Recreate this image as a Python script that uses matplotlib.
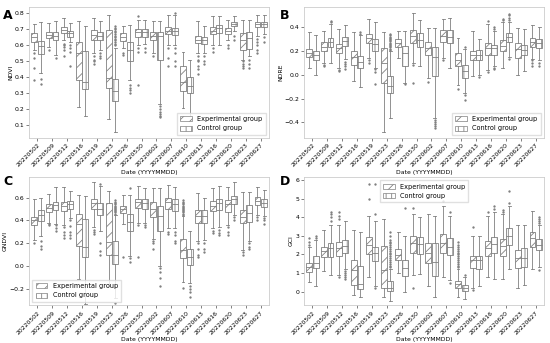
import matplotlib
matplotlib.use("Agg")
import matplotlib.pyplot as plt
from matplotlib.patches import Patch

dates = ["20220502", "20220509", "20220512", "20220516", "20220519", "20220523",
         "20220526", "20220530", "20220602", "20220607", "20220610", "20220613",
         "20220616", "20220620", "20220623", "20220627"]

# each box: (low whisker, q1, median, q3, high whisker)
ndvi_exp = [(0.57, 0.62, 0.65, 0.675, 0.733), (0.59, 0.648, 0.665, 0.681, 0.74),
            (0.63, 0.675, 0.695, 0.712, 0.77), (0.215, 0.383, 0.55, 0.619, 0.754),
            (0.55, 0.633, 0.665, 0.695, 0.77), (0.14, 0.33, 0.395, 0.695, 0.79),
            (0.58, 0.627, 0.65, 0.675, 0.72), (0.6, 0.654, 0.68, 0.702, 0.76),
            (0.55, 0.633, 0.66, 0.685, 0.75), (0.6, 0.669, 0.69, 0.717, 0.79),
            (0.205, 0.315, 0.37, 0.473, 0.56), (0.55, 0.613, 0.635, 0.66, 0.75),
            (0.6, 0.669, 0.69, 0.717, 0.78), (0.63, 0.67, 0.69, 0.71, 0.76),
            (0.51, 0.571, 0.633, 0.675, 0.76), (0.66, 0.712, 0.733, 0.748, 0.79)]
ndvi_exp_fliers = [[0.55, 0.52, 0.46, 0.38], [0.57], [0.61, 0.6, 0.59, 0.57, 0.53], [],
                   [0.53, 0.51, 0.5, 0.48], [], [0.55, 0.54], [0.78, 0.58, 0.56, 0.35],
                   [0.53], [0.58, 0.52, 0.47], [], [0.53, 0.51, 0.5, 0.47, 0.45, 0.42],
                   [0.58, 0.56], [0.6, 0.58], [0.5, 0.48, 0.47, 0.46], [0.64, 0.62, 0.6, 0.57, 0.55]]
ndvi_ctrl = [(0.425, 0.546, 0.592, 0.629, 0.748), (0.54, 0.633, 0.66, 0.685, 0.75),
             (0.62, 0.65, 0.675, 0.69, 0.74), (0.155, 0.325, 0.37, 0.565, 0.72),
             (0.57, 0.63, 0.655, 0.68, 0.75), (0.055, 0.248, 0.315, 0.389, 0.58),
             (0.38, 0.504, 0.57, 0.619, 0.725), (0.61, 0.654, 0.68, 0.702, 0.76),
             (0.23, 0.508, 0.655, 0.68, 0.75), (0.6, 0.665, 0.69, 0.71, 0.79),
             (0.15, 0.3, 0.345, 0.4, 0.51), (0.55, 0.608, 0.633, 0.654, 0.72),
             (0.6, 0.675, 0.705, 0.727, 0.78), (0.69, 0.723, 0.733, 0.744, 0.78),
             (0.53, 0.577, 0.644, 0.685, 0.76), (0.67, 0.712, 0.73, 0.744, 0.79)]
ndvi_ctrl_fliers = [[0.39, 0.36], [0.52], [0.6, 0.58, 0.56, 0.47], [], [0.55, 0.53, 0.52],
                    [0.6, 0.61, 0.62, 0.63, 0.64, 0.65, 0.66, 0.67, 0.68, 0.69, 0.7, 0.71, 0.72],
                    [0.35, 0.33, 0.32, 0.3], [0.58, 0.56], [0.22, 0.2, 0.18, 0.17, 0.16, 0.15],
                    [0.8, 0.58, 0.55, 0.5, 0.47], [], [0.53, 0.5, 0.48], [], [0.66, 0.63],
                    [0.51, 0.48, 0.46], [0.65, 0.62]]

ndre_exp = [(0.06, 0.152, 0.185, 0.213, 0.36), (0.1, 0.2, 0.235, 0.272, 0.37),
            (0.06, 0.18, 0.222, 0.258, 0.38), (-0.05, 0.08, 0.152, 0.2, 0.36),
            (0.14, 0.264, 0.306, 0.343, 0.47), (-0.48, -0.067, 0.095, 0.228, 0.36),
            (0.14, 0.236, 0.27, 0.298, 0.37), (0.1, 0.264, 0.326, 0.376, 0.52),
            (-0.03, 0.166, 0.222, 0.278, 0.39), (0.14, 0.278, 0.326, 0.376, 0.47),
            (-0.09, 0.073, 0.124, 0.18, 0.31), (-0.01, 0.124, 0.166, 0.2, 0.37),
            (0.04, 0.17, 0.228, 0.27, 0.43), (0.06, 0.2, 0.242, 0.292, 0.44),
            (0.0, 0.138, 0.213, 0.264, 0.39), (0.13, 0.236, 0.278, 0.312, 0.42)]
ndre_exp_fliers = [[], [0.08, 0.07], [0.04, 0.03], [], [0.12, 0.1], [], [], [0.08, -0.07],
                   [-0.06], [0.12], [-0.12], [], [0.45, 0.02], [0.46, 0.47], [], [0.12, 0.1, 0.07]]
ndre_ctrl = [(0.0, 0.124, 0.17, 0.2, 0.33), (0.1, 0.236, 0.278, 0.312, 0.43),
             (0.13, 0.24, 0.284, 0.32, 0.42), (-0.1, 0.053, 0.11, 0.157, 0.33),
             (0.06, 0.2, 0.256, 0.3, 0.44), (-0.36, -0.157, -0.093, -0.011, 0.2),
             (-0.07, 0.073, 0.185, 0.242, 0.37), (0.07, 0.23, 0.292, 0.348, 0.46),
             (-0.36, -0.011, 0.152, 0.23, 0.39), (0.06, 0.264, 0.32, 0.376, 0.48),
             (-0.15, -0.025, 0.03, 0.081, 0.22), (0.0, 0.124, 0.17, 0.208, 0.3),
             (0.07, 0.17, 0.228, 0.25, 0.37), (0.15, 0.278, 0.32, 0.354, 0.44),
             (0.03, 0.166, 0.208, 0.25, 0.38), (0.12, 0.228, 0.264, 0.298, 0.4)]
ndre_ctrl_fliers = [[], [0.45, 0.44], [0.11, 0.09, 0.07, 0.05], [0.34, 0.36], [0.05, 0.02, -0.08],
                    [0.21, 0.22, 0.23, 0.24, 0.25, 0.26, 0.27, 0.28, 0.29, 0.3, 0.31, 0.32, 0.33, 0.34],
                    [-0.08], [], [-0.38, -0.4, -0.41, -0.43, -0.45], [], [0.23, -0.17, -0.21],
                    [-0.02], [0.4, 0.38, 0.06, 0.05], [0.46, 0.48, 0.5, 0.51, 0.13], [], [0.1, 0.07]]

gndvi_exp = [(0.23, 0.359, 0.403, 0.432, 0.59), (0.38, 0.476, 0.51, 0.54, 0.63),
             (0.36, 0.485, 0.525, 0.557, 0.69), (-0.11, 0.175, 0.368, 0.455, 0.62),
             (0.34, 0.496, 0.549, 0.584, 0.74), (-0.17, 0.096, 0.213, 0.549, 0.66),
             (0.37, 0.461, 0.496, 0.525, 0.62), (0.38, 0.505, 0.557, 0.587, 0.7),
             (0.24, 0.432, 0.496, 0.557, 0.68), (0.33, 0.5, 0.557, 0.598, 0.71),
             (-0.14, 0.067, 0.14, 0.236, 0.44), (0.22, 0.38, 0.438, 0.49, 0.64),
             (0.33, 0.485, 0.525, 0.57, 0.68), (0.36, 0.476, 0.54, 0.578, 0.69),
             (0.14, 0.374, 0.426, 0.49, 0.65), (0.45, 0.534, 0.57, 0.601, 0.69)]
gndvi_exp_fliers = [[0.2], [0.37, 0.36], [0.34, 0.3, 0.27, 0.25], [], [0.32, 0.3, 0.28], [],
                    [0.08], [0.36, 0.08], [0.22, 0.2, 0.15], [0.3, 0.28],
                    [0.45, 0.46, 0.47, 0.48, 0.49, 0.5, 0.51, 0.52, 0.53, 0.54, 0.55, 0.56, 0.58, -0.19],
                    [0.2, 0.15, 0.1, 0.08], [0.31, 0.29], [0.34, 0.3, 0.27], [0.12, 0.1], [0.43, 0.4]]
gndvi_ctrl = [(0.26, 0.394, 0.447, 0.49, 0.6), (0.37, 0.49, 0.534, 0.563, 0.69),
              (0.42, 0.5, 0.54, 0.57, 0.66), (-0.33, 0.082, 0.163, 0.412, 0.61),
              (0.31, 0.447, 0.496, 0.549, 0.7), (-0.28, 0.015, 0.096, 0.222, 0.45),
              (0.09, 0.309, 0.388, 0.455, 0.62), (0.38, 0.496, 0.549, 0.584, 0.68),
              (0.0, 0.307, 0.438, 0.528, 0.68), (0.33, 0.482, 0.54, 0.584, 0.69),
              (-0.15, 0.009, 0.076, 0.146, 0.31), (0.23, 0.38, 0.438, 0.49, 0.6),
              (0.34, 0.49, 0.549, 0.587, 0.7), (0.45, 0.54, 0.587, 0.616, 0.74),
              (0.22, 0.388, 0.467, 0.534, 0.65), (0.44, 0.52, 0.555, 0.584, 0.67)]
gndvi_ctrl_fliers = [[0.22, 0.18, 0.15], [0.36, 0.33, 0.31], [0.4, 0.35, 0.3, 0.27, 0.25], [],
                     [0.72, 0.2, 0.13, 0.1],
                     [0.46, 0.47, 0.48, 0.49, 0.5, 0.51, 0.52, 0.53, 0.54, 0.55, 0.56, 0.58, -0.32],
                     [0.68, 0.07, 0.04], [0.36, 0.34], [-0.02, -0.05, -0.1, -0.17],
                     [0.3, 0.27, 0.22, 0.2], [-0.17, -0.2, -0.23, -0.27], [0.2, 0.15, 0.12],
                     [0.32, 0.29, 0.27], [0.43, 0.4], [0.2, 0.17, 0.15], [0.42, 0.4, 0.37]]

gci_exp = [(0.5, 1.08, 1.34, 1.56, 2.4), (1.1, 1.85, 2.19, 2.38, 3.3),
           (0.9, 1.92, 2.33, 2.69, 3.6), (-0.2, 0.36, 1.16, 1.7, 3.3),
           (0.8, 2.03, 2.51, 2.96, 4.1), (-0.3, 0.18, 1.16, 2.46, 3.9),
           (1.0, 1.7, 1.97, 2.28, 3.2), (0.9, 2.1, 2.6, 3.01, 4.2),
           (0.3, 1.52, 2.06, 2.63, 4.2), (0.8, 2.06, 2.6, 3.08, 4.6),
           (-0.3, 0.18, 0.39, 0.59, 1.2), (0.2, 1.25, 1.7, 1.92, 3.0),
           (0.8, 1.92, 2.33, 2.74, 4.1), (0.7, 1.92, 2.46, 2.81, 4.2),
           (0.2, 1.25, 1.79, 2.24, 3.6), (1.2, 2.38, 2.87, 3.21, 4.35)]
gci_exp_fliers = [[2.5, 2.7, 2.9], [], [0.8, 3.9, 4.1, 4.3], [], [5.0, 5.8], [], [], [4.5, 0.2],
                  [], [4.9],
                  [1.3, 1.4, 1.5, 1.6, 1.7, 1.8, 1.9, 2.0, 2.1, 2.2, 2.3, 2.4, 2.5, 2.7],
                  [3.5, 0.1], [4.3], [4.3, 4.4], [], []]
gci_ctrl = [(0.3, 1.25, 1.56, 1.92, 2.8), (0.9, 1.85, 2.33, 2.63, 3.6),
            (1.2, 2.06, 2.46, 2.78, 3.8), (-0.3, 0.14, 0.39, 1.4, 3.2),
            (0.3, 1.67, 2.06, 2.38, 3.8), (-0.5, 0.05, 0.2, 0.55, 1.2),
            (0.0, 0.84, 1.25, 1.7, 3.0), (0.95, 2.0, 2.56, 2.92, 4.0),
            (-0.3, 0.84, 1.61, 2.63, 4.1), (0.6, 1.97, 2.38, 2.87, 4.1),
            (-0.4, 0.05, 0.2, 0.36, 0.8), (0.3, 1.2, 1.7, 1.92, 3.0),
            (0.7, 2.06, 2.56, 2.96, 4.3), (1.2, 2.51, 2.99, 3.41, 4.6),
            (0.35, 1.34, 1.83, 2.33, 3.6), (1.3, 2.24, 2.51, 2.81, 3.6)]
gci_ctrl_fliers = [[2.9, 3.0], [3.8, 4.0, 4.2, 4.3], [1.1, 1.0, 0.9, 0.8, 0.7], [],
                   [4.2, 5.8, 0.2],
                   [1.3, 1.4, 1.5, 1.6, 1.7, 1.8, 1.9, 2.0, 2.1, 2.2, 2.3, 2.4, 2.5, 2.6, 2.7, 2.8, 3.0, 3.2],
                   [4.5], [], [], [4.3, 0.45], [0.9], [], [4.45, 4.6], [4.8, 5.4], [],
                   [3.7, 3.8, 3.9, 4.0, 1.15]]

GRAY = '0.5'
FS = 4.4
plt.rcParams['hatch.linewidth'] = 0.6
plt.rcParams['hatch.color'] = GRAY


def make_stats(boxes, fliers):
    return [dict(whislo=b[0], q1=b[1], med=b[2], q3=b[3], whishi=b[4], fliers=f)
            for b, f in zip(boxes, fliers)]


def draw_panel(ax, exp, exp_f, ctrl, ctrl_f, ylabel, ylim, yticks, legend_loc):
    n = len(dates)
    for stats, offset, hatch in [(make_stats(exp, exp_f), -0.22, '///'),
                                 (make_stats(ctrl, ctrl_f), 0.22, '|||')]:
        res = ax.bxp(stats, positions=[i + offset for i in range(n)], widths=0.4,
                     patch_artist=True, showfliers=True,
                     boxprops=dict(facecolor='white', edgecolor=GRAY, linewidth=0.6),
                     medianprops=dict(color=GRAY, linewidth=0.6),
                     whiskerprops=dict(color=GRAY, linewidth=0.6),
                     capprops=dict(color=GRAY, linewidth=0.6),
                     flierprops=dict(marker='d', markersize=0.8, markerfacecolor=GRAY,
                                     markeredgecolor=GRAY))
        for box in res['boxes']:
            box.set_hatch(hatch)
    ax.set_xlim(-0.55, n - 0.45)
    ax.set_ylim(*ylim)
    ax.set_yticks(yticks)
    ax.set_xticks(range(n))
    ax.set_xticklabels(dates, rotation=45, ha='right', rotation_mode='anchor')
    ax.tick_params(labelsize=FS, length=2, width=0.5, pad=1.5, color='0.3')
    ax.set_ylabel(ylabel, fontsize=FS, labelpad=1)
    ax.set_xlabel('Date (YYYYMMDD)', fontsize=FS, labelpad=1)
    for sp in ax.spines.values():
        sp.set_color('0.8')
        sp.set_linewidth(0.6)
    handles = [Patch(facecolor='white', edgecolor=GRAY, hatch='///', linewidth=0.5),
               Patch(facecolor='white', edgecolor=GRAY, hatch='|||', linewidth=0.5)]
    ax.legend(handles, ['Experimental group', 'Control group'], loc=legend_loc,
              fontsize=FS + 0.3, frameon=True, handlelength=1.8, handleheight=0.8,
              borderpad=0.5, labelspacing=0.5, edgecolor='0.85', fancybox=False)


fig = plt.figure(figsize=(5.5, 3.43), dpi=100)
axA = fig.add_axes([0.053, 0.598, 0.436, 0.382])
axB = fig.add_axes([0.553, 0.598, 0.436, 0.382])
axC = fig.add_axes([0.053, 0.111, 0.436, 0.373])
axD = fig.add_axes([0.553, 0.111, 0.436, 0.373])

draw_panel(axA, ndvi_exp, ndvi_exp_fliers, ndvi_ctrl, ndvi_ctrl_fliers, 'NDVI',
           (0.02, 0.84), [0.1, 0.2, 0.3, 0.4, 0.5, 0.6, 0.7, 0.8], 'lower right')
draw_panel(axB, ndre_exp, ndre_exp_fliers, ndre_ctrl, ndre_ctrl_fliers, 'NDRE',
           (-0.53, 0.57), [-0.4, -0.2, 0.0, 0.2, 0.4], 'lower right')
draw_panel(axC, gndvi_exp, gndvi_exp_fliers, gndvi_ctrl, gndvi_ctrl_fliers, 'GNDVI',
           (-0.34, 0.78), [-0.2, 0.0, 0.2, 0.4, 0.6], 'lower left')
draw_panel(axD, gci_exp, gci_exp_fliers, gci_ctrl, gci_ctrl_fliers, 'GCI',
           (-0.72, 6.18), [0, 1, 2, 3, 4, 5, 6], 'upper center')

for x, y, s in [(0.006, 0.975, 'A'), (0.508, 0.975, 'B'), (0.006, 0.49, 'C'), (0.508, 0.49, 'D')]:
    fig.text(x, y, s, fontsize=9, fontweight='bold', va='top', ha='left')

fig.savefig('out.png', dpi=100)
